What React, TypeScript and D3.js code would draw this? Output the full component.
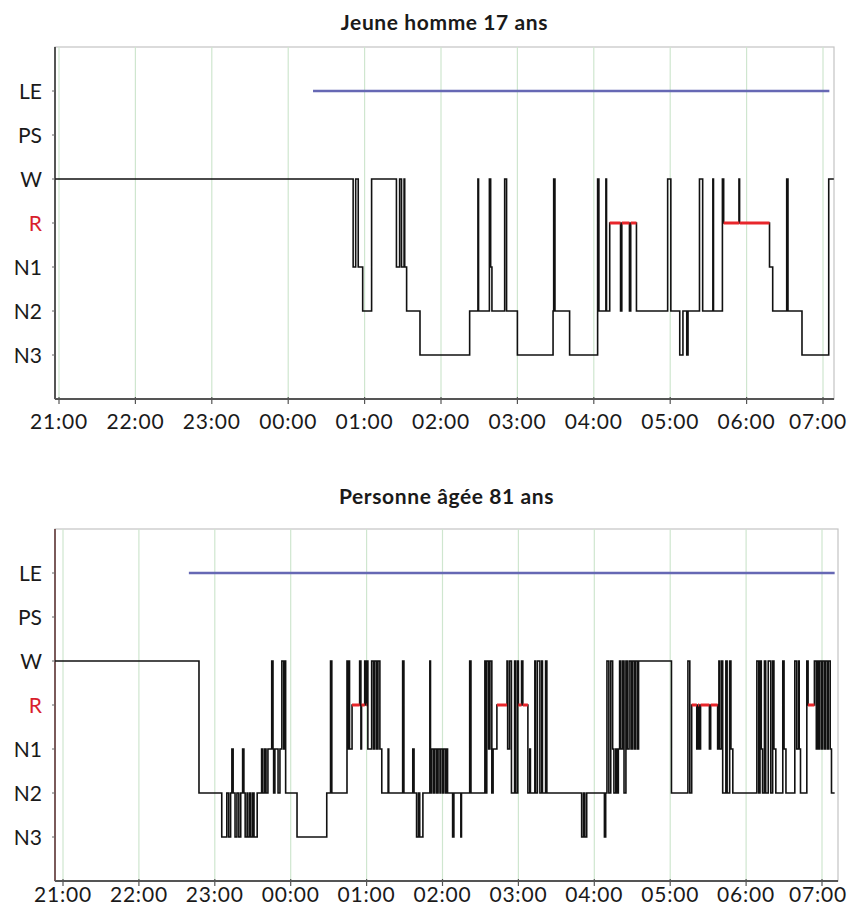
import React from "react";
import * as d3 from "d3";

// sleep stages, top to bottom
const stageLabels = ["LE", "PS", "W", "R", "N1", "N2", "N3"];
const hourLabels = ["21:00", "22:00", "23:00", "00:00", "01:00", "02:00", "03:00", "04:00", "05:00", "06:00", "07:00"];

// times are minutes after 21:00
const youngTimes = [-3, 231, 233, 235, 238.5, 245.5, 265, 267.5, 269, 271, 271.5, 273, 283.5, 322.5, 329, 329.5, 338, 339, 340, 350, 351.5, 360, 388, 388.5, 389.5, 401, 423, 424, 429.5, 430, 432.5, 441, 442, 448, 449, 453.5, 478, 480.5, 487.5, 490, 493, 494, 503, 505.5, 513.5, 514, 521, 522, 534, 534.5, 558, 560.5, 571.5, 572.5, 583.5, 604.5, 608.5];
const youngStages = ["W", "N1", "W", "N1", "N2", "W", "N1", "W", "N1", "W", "N1", "N2", "N3", "N2", "W", "N2", "W", "N1", "N2", "W", "N2", "N3", "N2", "W", "N2", "N3", "W", "N2", "W", "N2", "R", "N2", "R", "N2", "R", "N2", "W", "N2", "N3", "N2", "N3", "N2", "W", "N2", "W", "N2", "W", "R", "W", "R", "N1", "N2", "W", "N2", "N3", "W", "W"];
const youngLights = [199.5, 605];

const olderTimes = [-6.3, 107.5, 125.5, 129.5, 131, 132.5, 133.5, 134.5, 136, 137.5, 139, 140.5, 142, 143, 144, 145.5, 146, 147.5, 148.5, 150, 151, 153.5, 157, 158, 159.5, 160.5, 162, 165, 166, 166.5, 167.5, 170, 171.5, 173, 174.5, 175.5, 176, 185, 208.5, 211.5, 212.5, 224.5, 225, 226, 226.5, 228.5, 234.5, 235.5, 236, 238.5, 239.5, 240, 241, 244, 245.5, 246.5, 248, 249, 250.5, 252, 257, 257.5, 268.5, 269.5, 276.5, 277.5, 279.5, 281, 282, 284.5, 290, 290.5, 291.5, 293, 294, 295.5, 296.5, 298, 298.5, 300, 301, 302.5, 303.5, 304, 308, 309, 314.5, 315, 321.5, 322.5, 333.5, 334, 335, 336.5, 337.5, 339, 340, 343, 351, 351.5, 353, 354.5, 357, 358, 359.5, 360, 362.5, 363.5, 367.5, 369, 369.5, 373, 373.5, 375, 377, 378.5, 379, 381.5, 382.5, 410, 411.5, 412.5, 414, 428, 429, 430, 431.5, 433, 434.5, 435.5, 437, 438, 439, 440, 441, 442.5, 443.5, 445, 446, 447.5, 449, 450, 451.5, 452.5, 454, 455, 481, 494, 495.5, 497, 501, 502, 503, 504, 511, 512, 517.5, 518.5, 519, 520.5, 521.5, 524, 525, 527, 528, 529.5, 548.5, 550, 551, 552, 553, 554.5, 555.5, 557.5, 559.5, 561, 562, 563.5, 569, 570, 571.5, 578.5, 580, 581.5, 582, 583, 588, 589, 594, 595.5, 596.5, 597, 598, 599.5, 600.5, 602, 603, 604.5, 605, 606.5, 607.5, 610];
const olderStages = ["W", "N2", "N3", "N2", "N3", "N2", "N1", "N2", "N3", "N2", "N3", "N2", "N1", "N2", "N3", "N2", "N3", "N2", "N3", "N2", "N3", "N2", "N1", "N2", "N1", "N2", "N1", "W", "N1", "N2", "N1", "N2", "N1", "W", "N1", "W", "N2", "N3", "N2", "W", "N2", "W", "N1", "W", "N1", "R", "W", "N1", "R", "W", "R", "W", "N1", "W", "N1", "W", "N1", "W", "N1", "N2", "N1", "N2", "W", "N2", "N1", "N2", "N3", "N2", "N3", "N2", "W", "N2", "N1", "N2", "N1", "N2", "N1", "N2", "N1", "N2", "N1", "N2", "N1", "N2", "N3", "N2", "N3", "N2", "W", "N2", "W", "N2", "W", "N1", "W", "N2", "N1", "R", "W", "N1", "W", "N2", "W", "N2", "W", "R", "W", "R", "N2", "N1", "N2", "W", "N2", "W", "N2", "W", "N2", "W", "N2", "N3", "N2", "N3", "N2", "N3", "N2", "W", "N2", "W", "N1", "N2", "N1", "N2", "N1", "W", "N1", "W", "N2", "W", "N1", "W", "N1", "W", "N1", "W", "N1", "W", "N2", "W", "N2", "R", "N1", "R", "N1", "R", "N1", "R", "N1", "W", "N1", "W", "N2", "W", "N2", "W", "N1", "N2", "W", "N2", "W", "N1", "N2", "W", "N2", "W", "N2", "W", "N1", "N2", "W", "N1", "N2", "W", "N1", "W", "N1", "N2", "W", "R", "W", "N1", "W", "N1", "W", "N1", "W", "N1", "W", "N1", "W", "N1", "N2", "N2"];
const olderLights = [99.5, 610];

const FONT = "Lato, 'Open Sans', sans-serif";
const WIDTH = 849;

type Props = {
  title: string;
  times: number[];
  stages: string[];
  lights: number[];
  top: number;
  bottom: number;
  left: number;
  right: number;
  x0: number;
  x600: number;
  titleY: number;
  labelY: number;
  axisColor: string;
};

function Hypnogram(p: Props) {
  const x = d3.scaleLinear().domain([0, 600]).range([p.x0, p.x600]);
  const y = d3.scaleLinear().domain([0, stageLabels.length + 1]).range([p.top, p.bottom]);
  const yOf = (s: string) => y(stageLabels.indexOf(s) + 1);

  const path = d3
    .line<number>()
    .x((t) => x(t))
    .y((_, i) => yOf(p.stages[i]))
    .curve(d3.curveStepAfter)(p.times);

  return (
    <g>
      <text x={(p.left + p.right) / 2} y={p.titleY} textAnchor="middle" fontFamily={FONT} fontWeight="bold" fontSize={21} letterSpacing={0.6} fill="#1a1a1a">
        {p.title}
      </text>
      {/* frame */}
      <rect x={p.left} y={p.top} width={p.right - p.left} height={p.bottom - p.top} fill="none" stroke="#c4c4c4" strokeWidth={1.2} />
      {/* hour gridlines */}
      {hourLabels.map((h, i) => (
        <line key={h} x1={x(i * 60)} x2={x(i * 60)} y1={p.top} y2={p.bottom} stroke="#cfe6cf" strokeWidth={1.2} />
      ))}
      {/* axes */}
      <line x1={p.left} x2={p.left} y1={p.top} y2={p.bottom} stroke={p.axisColor} strokeWidth={2} />
      <line x1={p.left} x2={p.right} y1={p.bottom} y2={p.bottom} stroke="#555" strokeWidth={2} />
      {stageLabels.map((s) => (
        <g key={s}>
          <line x1={p.left - 3} x2={p.left} y1={yOf(s)} y2={yOf(s)} stroke="#666" strokeWidth={1} />
          <text x={p.left - 13} y={yOf(s)} dy="0.36em" textAnchor="end" fontFamily={FONT} fontSize={21} fill={s === "R" ? "#d81e2c" : "#1a1a1a"}>
            {s}
          </text>
        </g>
      ))}
      {hourLabels.map((h, i) => {
        const last = i === hourLabels.length - 1;
        return (
          <g key={h}>
            <line x1={x(i * 60)} x2={x(i * 60)} y1={p.bottom - 2} y2={p.bottom + 5} stroke="#555" strokeWidth={1.2} />
            <text
              x={last ? WIDTH - 2 : x(i * 60)}
              y={p.labelY}
              textAnchor={last ? "end" : "middle"}
              fontFamily={FONT}
              fontSize={21}
              letterSpacing={0.8}
              fill="#1a1a1a"
            >
              {h}
            </text>
          </g>
        );
      })}
      {/* lights-out period */}
      <line x1={x(p.lights[0])} x2={x(p.lights[1])} y1={yOf("LE")} y2={yOf("LE")} stroke="#6668b4" strokeWidth={2.5} />
      {/* hypnogram */}
      <path d={path ?? ""} fill="none" stroke="#111" strokeWidth={1.6} />
      {p.times.slice(0, -1).map((t, i) =>
        p.stages[i] === "R" ? (
          <line key={i} x1={x(t)} x2={x(p.times[i + 1])} y1={yOf("R")} y2={yOf("R")} stroke="#e8262b" strokeWidth={3} />
        ) : null
      )}
    </g>
  );
}

export default function App() {
  return (
    <svg width={WIDTH} height={913} style={{ position: "absolute", left: 0, top: 0, background: "#fff" }}>
      <Hypnogram
        title="Jeune homme 17 ans"
        times={youngTimes}
        stages={youngStages}
        lights={youngLights}
        top={47}
        bottom={399}
        left={55}
        right={834}
        x0={59}
        x600={823}
        titleY={30}
        labelY={429}
        axisColor="#555"
      />
      <Hypnogram
        title="Personne âgée 81 ans"
        times={olderTimes}
        stages={olderStages}
        lights={olderLights}
        top={529}
        bottom={881}
        left={55}
        right={838}
        x0={63}
        x600={822}
        titleY={504}
        labelY={902}
        axisColor="#7a5a5a"
      />
    </svg>
  );
}
